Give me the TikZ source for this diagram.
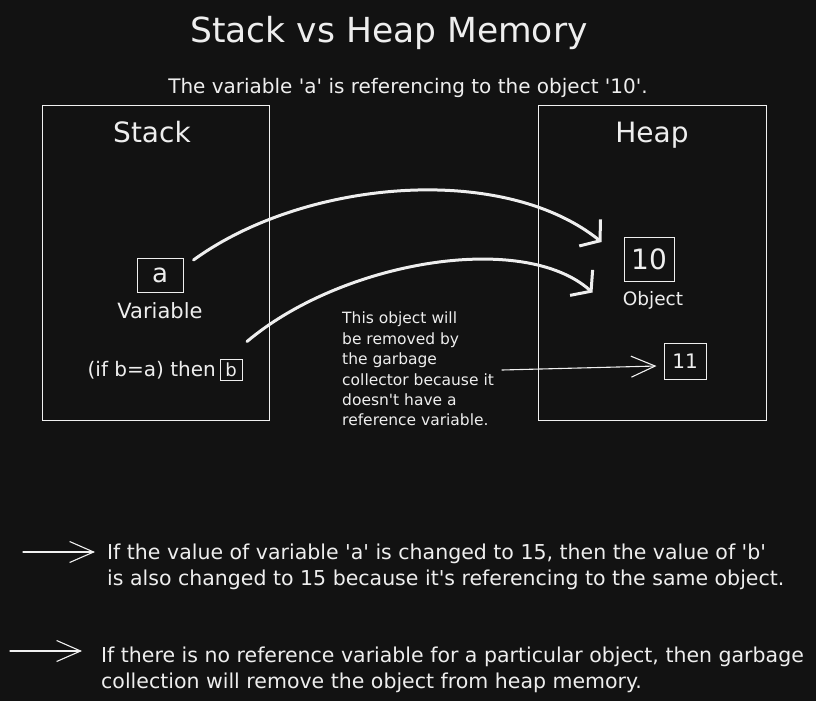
\documentclass[tikz,border=0pt]{standalone}
\usepackage{fontspec}
\setmainfont{DejaVu Sans}[Ligatures=TeXOff]
\usetikzlibrary{arrows.meta,calc}
\definecolor{bgdark}{HTML}{121212}
\definecolor{ink}{HTML}{EEEEEE}

\begin{document}
\begin{tikzpicture}[x=1pt,y=-1pt,
    panel/.style={draw=ink!85, line width=1.2pt, inner sep=0pt, anchor=north west},
    valbox/.style={draw=ink, line width=1pt, inner sep=0pt, text=ink},
    lbl/.style={text=ink, anchor=base, inner sep=0pt},
    bigarrow/.style={draw=ink, line width=3pt, line cap=round, line join=round,
        -{Straight Barb[length=13pt,width=34pt]}},
    thinarrow/.style={draw=ink!90, line width=1.1pt, line cap=round,
        -{Straight Barb[length=24pt,width=21pt]}}]
    \fill[bgdark] (0,0) rectangle (816,701);
    \useasboundingbox (0,0) rectangle (816,701);
    % headings
    \node[lbl, font=\fontsize{34.5}{40}\selectfont] (title) at (389,43) {Stack vs Heap Memory};
    \node[lbl, font=\fontsize{20}{24}\selectfont] (sub) at (408,93) {The variable 'a' is referencing to the object '10'.};
    % the two memory areas
    \node[panel, minimum width=227pt, minimum height=315pt] (stack) at (42,105) {};
    \node[panel, minimum width=228pt, minimum height=315pt] (heap) at (538,105) {};
    \node[lbl, font=\fontsize{28}{32}\selectfont] (stacklbl) at (152,142) {Stack};
    \node[lbl, font=\fontsize{28}{32}\selectfont] (heaplbl) at (652,142) {Heap};
    % stack side
    \node[valbox, minimum width=46pt, minimum height=34pt, font=\fontsize{26}{30}\selectfont] (a) at (160,275) {a};
    \node[lbl, font=\fontsize{21}{24}\selectfont] (var) at (160,318) {Variable};
    \node[valbox, minimum width=22pt, minimum height=21pt, font=\fontsize{18}{20}\selectfont] (b) at (231,369.5) {b};
    \node[lbl, anchor=base east, font=\fontsize{20}{24}\selectfont] (ifb) at (216,376) {(if b=a) then};
    % heap side
    \node[valbox, minimum width=50pt, minimum height=44pt, font=\fontsize{28}{32}\selectfont] (ten) at (649,259) {10};
    \node[lbl, font=\fontsize{18.5}{22}\selectfont] (obj) at (653,305) {Object};
    \node[valbox, minimum width=42pt, minimum height=36pt, font=\fontsize{20}{24}\selectfont] (eleven) at (685,361) {11};
    \node[text=ink, anchor=north west, inner sep=0pt, align=left,
        font=\fontsize{15.5}{20.4}\selectfont] (note) at (342,312)
        {This object will\\be removed by\\the garbage\\collector because it\\doesn't have a\\reference variable.};
    % references
    \coordinate (a-out) at ($(a.east)+(10,-15)$);
    \coordinate (a-in) at ($(ten.west)+(-22,-17)$);
    \coordinate (b-out) at ($(b.north)+(16,-17)$);
    \coordinate (b-in) at ($(ten.south west)+(-31,11)$);
    \draw[bigarrow] (a-out) .. controls +(110,-80) and +(-100,-80) .. (a-in);
    \draw[bigarrow] (b-out) .. controls +(95,-80) and +(-70,-62) .. (b-in);
    \coordinate (gc) at (502,370);
    \draw[thinarrow] (gc) -- ([xshift=-7pt,yshift=-5pt]eleven.west);
    % notes at the bottom
    \node[text=ink, anchor=base west, inner sep=0pt, align=left,
        font=\fontsize{20.5}{26}\selectfont] (n1) at (107,585)
        {If the value of variable 'a' is changed to 15, then the value of 'b'\\is also changed to 15 because it's referencing to the same object.};
    \node[text=ink, anchor=base west, inner sep=0pt, align=left,
        font=\fontsize{20.5}{26}\selectfont] (n2) at (101,688)
        {If there is no reference variable for a particular object, then garbage\\collection will remove the object from heap memory.};
    \coordinate (p1) at (23,552);
    \coordinate (p2) at (10,651);
    \draw[thinarrow] (p1) -- ($(n1.base west)+(-12,-33)$);
    \draw[thinarrow] (p2) -- ($(n2.base west)+(-19,-37)$);
\end{tikzpicture}
\end{document}
